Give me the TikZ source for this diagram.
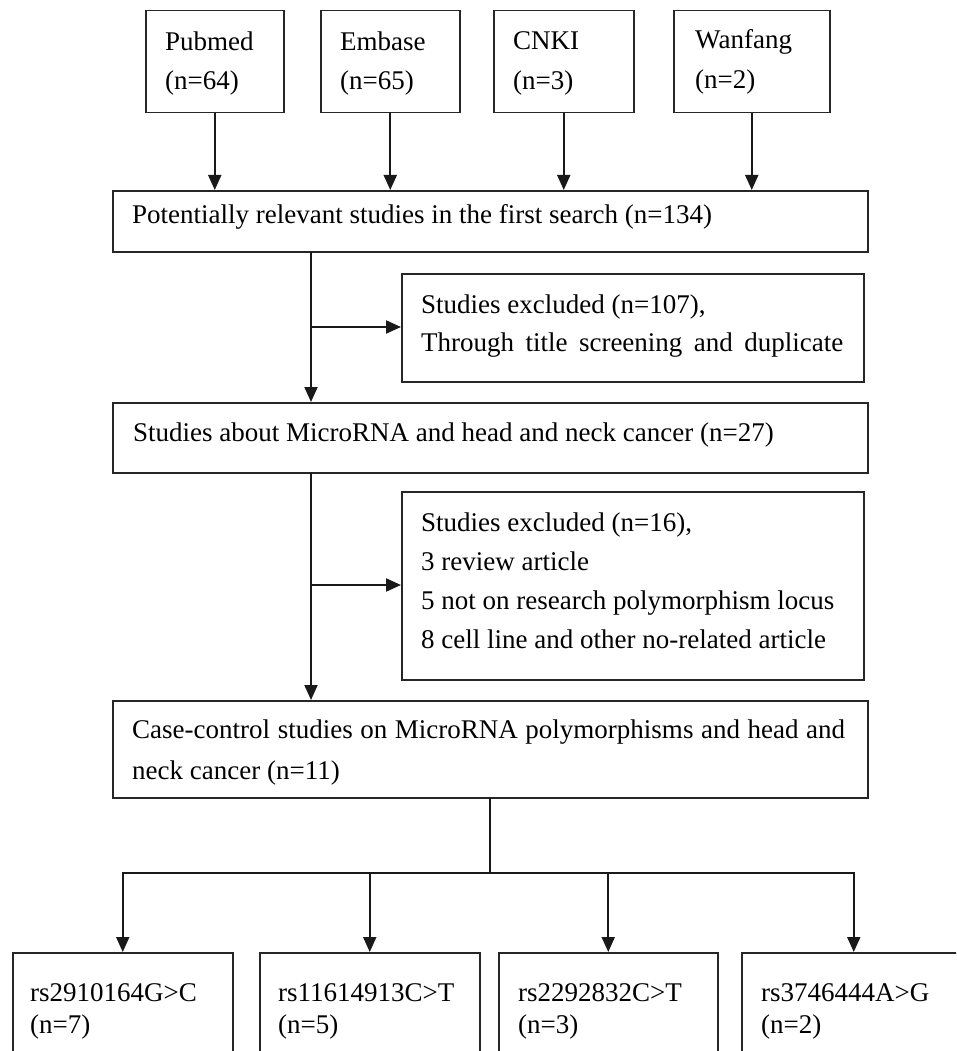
\documentclass[tikz,border=0pt]{standalone}
\usepackage{fontspec}
\setmainfont{Liberation Serif}
\usetikzlibrary{arrows.meta}
\begin{document}
\begin{tikzpicture}[x=1pt,y=-1pt,
  box/.style={draw=black!85, line width=1.5pt, rectangle, anchor=north west, inner sep=0pt},
  txt/.style={anchor=base west, inner sep=0pt, font=\fontsize{27}{40}\selectfont},
  arr/.style={draw=black!90, line width=2pt, -{Triangle[length=15pt,width=13pt]}},
  ln/.style={draw=black!90, line width=2pt, line cap=rect}]
\useasboundingbox (0,0) rectangle (956,1051);
\clip (0,0) rectangle (956,1051);
% boxes
\node[box, minimum width=138pt, minimum height=102pt] (pub) at (145,10) {};
\node[box, minimum width=139pt, minimum height=102pt] (emb) at (320,10) {};
\node[box, minimum width=140pt, minimum height=102pt] (cnki) at (493,10) {};
\node[box, minimum width=156pt, minimum height=102pt] (wan) at (673,10) {};
\node[box, minimum width=755pt, minimum height=61pt] (pot) at (112,190) {};
\node[box, minimum width=462pt, minimum height=108pt] (ex1) at (401,273) {};
\node[box, minimum width=755pt, minimum height=70pt] (about) at (112,402) {};
\node[box, minimum width=462pt, minimum height=188pt] (ex2) at (401,491) {};
\node[box, minimum width=755pt, minimum height=97pt] (cc) at (112,700) {};
\node[box, minimum width=220pt, minimum height=120pt] (r1) at (12,952) {};
\node[box, minimum width=220pt, minimum height=120pt] (r2) at (259,952) {};
\node[box, minimum width=219pt, minimum height=120pt] (r3) at (498,952) {};
\node[box, minimum width=224pt, minimum height=120pt] (r4) at (741,952) {};
% texts
\node[txt] (t1a) at (165,51) {Pubmed};
\node[txt] (t1b) at (165,90) {(n=64)};
\node[txt] (t2a) at (340,51) {Embase};
\node[txt] (t2b) at (340,90) {(n=65)};
\node[txt] (t3a) at (513,50) {CNKI};
\node[txt] (t3b) at (513,90) {(n=3)};
\node[txt] (t4a) at (695,49) {Wanfang};
\node[txt] (t4b) at (695,89) {(n=2)};
\node[txt] (t5) at (132,223) {Potentially relevant studies in the first search (n=134)};
\node[txt] (t6a) at (421,313) {Studies excluded (n=107),};
\node[txt] (t6b) at (421,351) {\makebox[422pt][s]{Through title screening and duplicate}};
\node[txt] (t7) at (133,441) {Studies about MicroRNA and head and neck cancer (n=27)};
\node[txt] (t8a) at (421,531) {Studies excluded (n=16),};
\node[txt] (t8b) at (421,570) {3 review article};
\node[txt] (t8c) at (421,609) {5 not on research polymorphism locus};
\node[txt] (t8d) at (421,648) {8 cell line and other no-related article};
\node[txt] (t9a) at (132,738) {\makebox[713pt][s]{Case-control studies on MicroRNA polymorphisms and head and}};
\node[txt] (t9b) at (132,779) {neck cancer (n=11)};
\node[txt] (r1a) at (30,1001) {rs2910164G>C};
\node[txt] (r1b) at (30,1033) {(n=7)};
\node[txt] (r2a) at (278,1001) {rs11614913C>T};
\node[txt] (r2b) at (278,1033) {(n=5)};
\node[txt] (r3a) at (518,1001) {rs2292832C>T};
\node[txt] (r3b) at (518,1033) {(n=3)};
\node[txt] (r4a) at (761,1001) {rs3746444A>G};
\node[txt] (r4b) at (761,1033) {(n=2)};
% connectors
\foreach \s in {pub,emb,cnki,wan}
  \draw[arr] (\s.south) -- (\s.south |- pot.north);
\coordinate (b1) at (311,327);
\draw[ln] (pot.south -| b1) -- (b1);
\draw[arr] (b1) -- (about.north -| b1);
\draw[arr] (b1) -- (b1 -| ex1.west);
\coordinate (b2) at (311,585);
\draw[ln] (about.south -| b2) -- (b2);
\draw[arr] (b2) -- (cc.north -| b2);
\draw[arr] (b2) -- (b2 -| ex2.west);
\coordinate (h) at (490,873);
\draw[ln] (cc.south -| h) -- (h);
\draw[ln] (r1.north |- h) -- (r4.north |- h);
\foreach \r in {r1,r2,r3,r4}
  \draw[arr] (\r.north |- h) -- (\r.north);
\end{tikzpicture}
\end{document}
